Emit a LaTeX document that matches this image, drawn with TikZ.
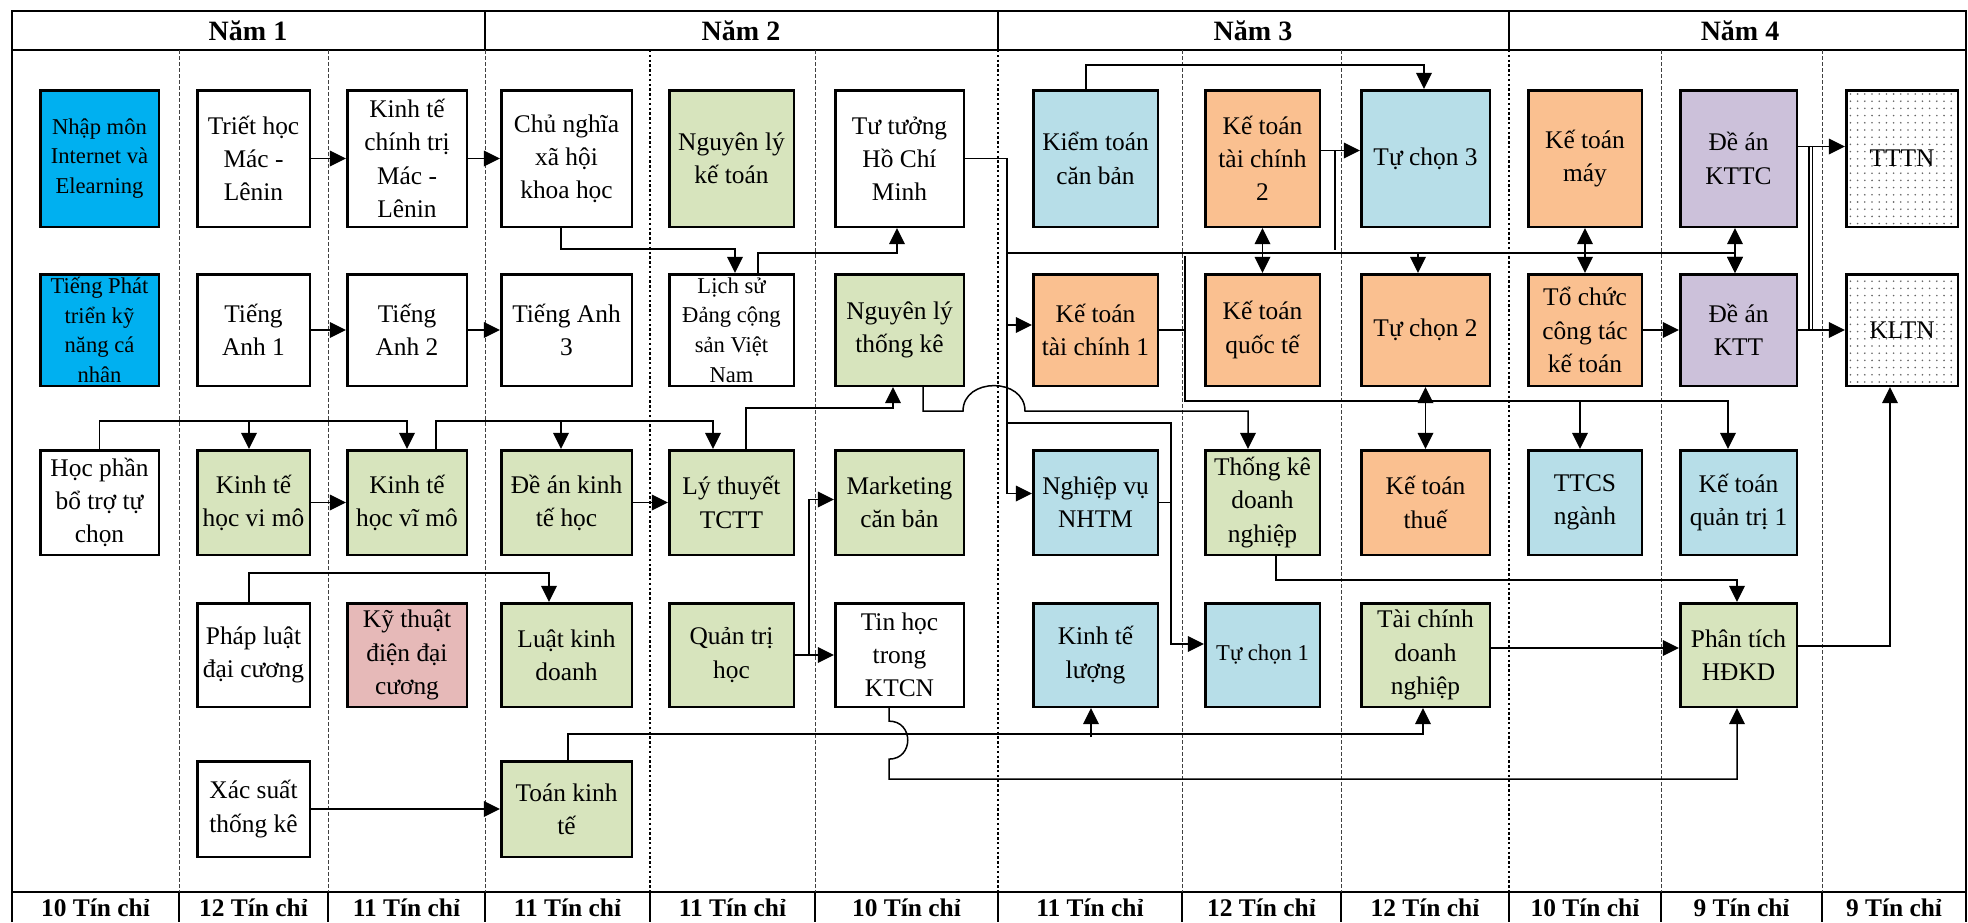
\documentclass[tikz,border=0pt]{standalone}
\usepackage{fontspec}
\setmainfont{Liberation Serif}
\usetikzlibrary{calc,arrows.meta,patterns.meta}
\definecolor{cyanbox}{HTML}{00B0F0}
\definecolor{greenbox}{HTML}{D7E4BD}
\definecolor{pinkbox}{HTML}{E6B9B8}
\definecolor{bluebox}{HTML}{B7DEE8}
\definecolor{orangebox}{HTML}{FAC090}
\definecolor{purplebox}{HTML}{CCC1DA}
\tikzset{
  course/.style={draw, line width=1.3pt, align=center, inner sep=0pt,
    font=\fontsize{12.7}{16.6}\selectfont},
  smalltext/.style={font=\fontsize{11.3}{14.8}\selectfont},
  dotbox/.style={course, pattern={Dots[distance=3.6pt, radius=0.45pt]}, pattern color=black!60},
  col1/.style={minimum width=59.3pt}, col2/.style={minimum width=56.3pt},
  col3/.style={minimum width=59.8pt}, col4/.style={minimum width=65.3pt},
  col5/.style={minimum width=62.3pt}, col6/.style={minimum width=64.3pt},
  col7/.style={minimum width=62.3pt}, col8/.style={minimum width=57.3pt},
  col9/.style={minimum width=64.3pt}, col10/.style={minimum width=56.8pt},
  col11/.style={minimum width=58.3pt}, col12/.style={minimum width=55.8pt},
  row1/.style={minimum height=68.3pt}, row2/.style={minimum height=55.8pt},
  row3/.style={minimum height=52.3pt}, row4/.style={minimum height=51.8pt},
  row5/.style={minimum height=47.8pt},
  link/.style={line width=0.75pt},
  arr/.style={link, -{Triangle[length=8pt,width=7.8pt]}},
  darr/.style={link, {Triangle[length=8pt,width=7.8pt]}-{Triangle[length=8pt,width=7.8pt]}},
  frame/.style={line width=1pt},
  semline/.style={line width=0.5pt, dash pattern=on 2pt off 1pt, black!75},
  yearline/.style={line width=1.1pt, dash pattern=on 1.2pt off 1.2pt},
  yearhead/.style={font=\fontsize{14}{16}\selectfont\bfseries},
  credit/.style={font=\fontsize{12.7}{15}\selectfont\bfseries}
}

\begin{document}
\begin{tikzpicture}[x=0.5pt, y=-0.5pt] % 1 unit = 1 pixel, y downwards

\useasboundingbox (0,0) rectangle (1968,922);
% frame, header and footer rows
\draw[frame] (12,922) -- (12,11) -- (1966,11) -- (1966,922);
\draw[frame] (12,50) -- (1966,50) (12,892) -- (1966,892);
\foreach \x in {485,998,1509} { \draw[frame] (\x,11) -- (\x,50); }
\foreach \x in {179,328,485,650,815,998,1182,1341,1509,1661,1822} { \draw[frame] (\x,892) -- (\x,922); }
\foreach \x in {179,328,485,815,1182,1341,1661,1822} { \draw[semline] (\x,50) -- (\x,892); }
\foreach \x in {650,998,1509} { \draw[yearline] (\x,50) -- (\x,892); }
\node[yearhead] (nam1) at (248,31) {Năm 1};
\node[yearhead] (nam2) at (741,31) {Năm 2};
\node[yearhead] (nam3) at (1253,31) {Năm 3};
\node[yearhead] (nam4) at (1740,31) {Năm 4};
\foreach \x/\n [count=\i] in {95.5/10,253.5/12,406.5/11,567.5/11,732.5/11,906.5/10,
    1090/11,1261.5/12,1425/12,1585/10,1741.5/9,1894/9}
  { \node[credit] (credit\i) at (\x,908) {\n~Tín chỉ}; }

% year 1
\node[course, col1, row1, fill=cyanbox, smalltext] (nhapmon) at (99.5,158.5) {Nhập môn\\Internet và\\Elearning};
\node[course, col1, row2, fill=cyanbox, smalltext] (kynang) at (99.5,330) {Tiếng Phát\\triển kỹ\\năng cá\\nhân};
\node[course, col1, row3] (hpbotro) at (99.5,502.5) {Học phần\\bổ trợ tự\\chọn};
\node[course, col2, row1] (triet) at (253.5,158.5) {Triết học\\Mác -\\Lênin};
\node[course, col2, row2] (ta1) at (253.5,330) {Tiếng\\Anh 1};
\node[course, col2, row3, fill=greenbox] (ktvi) at (253.5,502.5) {Kinh tế\\học vi mô};
\node[course, col2, row4] (phapluat) at (253.5,655) {Pháp luật\\đại cương};
\node[course, col2, row5] (xacsuat) at (253.5,809) {Xác suất\\thống kê};
\node[course, col3, row1] (ktct) at (407,158.5) {Kinh tế\\chính trị\\Mác -\\Lênin};
\node[course, col3, row2] (ta2) at (407,330) {Tiếng\\Anh 2};
\node[course, col3, row3, fill=greenbox] (ktvimo) at (407,502.5) {Kinh tế\\học vĩ mô};
\node[course, col3, row4, fill=pinkbox] (kythuat) at (407,655) {Kỹ thuật\\điện đại\\cương};
% year 2
\node[course, col4, row1] (cnxh) at (566.5,158.5) {Chủ nghĩa\\xã hội\\khoa học};
\node[course, col4, row2] (ta3) at (566.5,330) {Tiếng Anh\\3};
\node[course, col4, row3, fill=greenbox] (deankt) at (566.5,502.5) {Đề án kinh\\tế học};
\node[course, col4, row4, fill=greenbox] (luatkd) at (566.5,655) {Luật kinh\\doanh};
\node[course, col4, row5, fill=greenbox] (toankt) at (566.5,809) {Toán kinh\\tế};
\node[course, col5, row1, fill=greenbox] (nlkt) at (731.5,158.5) {Nguyên lý\\kế toán};
\node[course, col5, row2, smalltext] (lsd) at (731.5,330) {Lịch sử\\Đảng cộng\\sản Việt\\Nam};
\node[course, col5, row3, fill=greenbox] (lttctt) at (731.5,502.5) {Lý thuyết\\TCTT};
\node[course, col5, row4, fill=greenbox] (qtrihoc) at (731.5,655) {Quản trị\\học};
\node[course, col6, row1] (tthcm) at (899.5,158.5) {Tư tưởng\\Hồ Chí\\Minh};
\node[course, col6, row2, fill=greenbox] (nltk) at (899.5,330) {Nguyên lý\\thống kê};
\node[course, col6, row3, fill=greenbox] (mkt) at (899.5,502.5) {Marketing\\căn bản};
\node[course, col6, row4] (tinhoc) at (899.5,655) {Tin học\\trong\\KTCN};
% year 3
\node[course, col7, row1, fill=bluebox] (kiemtoan) at (1095.5,158.5) {Kiểm toán\\căn bản};
\node[course, col7, row2, fill=orangebox] (kttc1) at (1095.5,330) {Kế toán\\tài chính 1};
\node[course, col7, row3, fill=bluebox] (nvnhtm) at (1095.5,502.5) {Nghiệp vụ\\NHTM};
\node[course, col7, row4, fill=bluebox] (ktluong) at (1095.5,655) {Kinh tế\\lượng};
\node[course, col8, row1, fill=orangebox] (kttc2) at (1262.5,158.5) {Kế toán\\tài chính\\2};
\node[course, col8, row2, fill=orangebox] (ktqte) at (1262.5,330) {Kế toán\\quốc tế};
\node[course, col8, row3, fill=greenbox] (tkdn) at (1262.5,502.5) {Thống kê\\doanh\\nghiệp};
\node[course, col8, row4, fill=bluebox, smalltext] (tuchon1) at (1262.5,655) {Tự chọn 1};
\node[course, col9, row1, fill=bluebox] (tuchon3) at (1425.5,158.5) {Tự chọn 3};
\node[course, col9, row2, fill=orangebox] (tuchon2) at (1425.5,330) {Tự chọn 2};
\node[course, col9, row3, fill=orangebox] (ktthue) at (1425.5,502.5) {Kế toán\\thuế};
\node[course, col9, row4, fill=greenbox] (tcdn) at (1425.5,655) {Tài chính\\doanh\\nghiệp};
% year 4
\node[course, col10, row1, fill=orangebox] (ktmay) at (1585,158.5) {Kế toán\\máy};
\node[course, col10, row2, fill=orangebox] (tochuc) at (1585,330) {Tổ chức\\công tác\\kế toán};
\node[course, col10, row3, fill=bluebox] (ttcs) at (1585,502.5) {TTCS\\ngành};
\node[course, col11, row1, fill=purplebox] (dakttc) at (1738.5,158.5) {Đề án\\KTTC};
\node[course, col11, row2, fill=purplebox] (daktt) at (1738.5,330) {Đề án\\KTT};
\node[course, col11, row3, fill=bluebox] (ktqt1) at (1738.5,502.5) {Kế toán\\quản trị 1};
\node[course, col11, row4, fill=greenbox] (pthdkd) at (1738.5,655) {Phân tích\\HĐKD};
\node[dotbox, col12, row1] (tttn) at (1902,158.5) {TTTN};
\node[dotbox, col12, row2] (kltn) at (1902,330) {KLTN};

% year 1 and 2 links
\draw[arr] (triet.east) -- (ktct.west);
\draw[arr] (ktct.east) -- (cnxh.west);
\draw[arr] (ta1.east) -- (ta2.west);
\draw[arr] (ta2.east) -- (ta3.west);
\draw[arr] ($(cnxh.south)+(-5.5,0)$) -- ++(0,21) -| ($(lsd.north)+(3.5,0)$);
\draw[arr] ($(lsd.north)+(26.5,0)$) -- ++(0,-20) -| ($(tthcm.south)+(-2.5,0)$);
\draw[arr] (hpbotro.north) -- ++(0,-28) -| (ktvimo.north);
\draw[arr] ($(ktvi.north)+(-4.5,-28)$) -- ($(ktvi.north)+(-4.5,0)$);
\draw[arr] (ktvi.east) -- (ktvimo.west);
\draw[arr] ($(ktvimo.north)+(29,0)$) -- ++(0,-28) -| ($(lttctt.north)+(-18.5,0)$);
\draw[arr] ($(deankt.north)+(-5.5,-28)$) -- ($(deankt.north)+(-5.5,0)$);
\draw[arr] (deankt.east) -- (lttctt.west);
\draw[arr] ($(lttctt.north)+(14.5,0)$) -- ++(0,-41) -| ($(nltk.south)+(-6.5,0)$);
\draw[arr] ($(phapluat.north)+(-4.5,0)$) -- ++(0,-29) -| ($(luatkd.north)+(-17.5,0)$);
\draw[arr] (xacsuat.east) -- (toankt.west);
\draw[arr] (qtrihoc.east) -- (tinhoc.west);
\draw[arr] (qtrihoc.east) -- ++(14,0) |- ($(mkt.west)+(0,-3)$);
\draw[arr] ($(toankt.north)+(1.5,0)$) -- ++(0,-26) -| ($(tcdn.south)+(-2.5,0)$);
\draw[arr] ($(ktluong.south)+(-4.5,29)$) -- ($(ktluong.south)+(-4.5,0)$);
\draw[arr] ($(tinhoc.south)+(-10.5,0)$) -- ++(0,13) coordinate (hopB)
  .. controls ($(hopB)+(25,0)$) and ($(hopB)+(25,38)$) .. ($(hopB)+(0,38)$)
  -- ++(0,20) -| ($(pthdkd.south)+(-1.5,0)$);
\draw[arr] ($(nltk.south)+(23.5,0)$) -- ++(0,24) -- ++(40,0) coordinate (hopA)
  .. controls ($(hopA)+(0,-34)$) and ($(hopA)+(62,-34)$) .. ($(hopA)+(62,0)$)
  -| ($(tkdn.north)+(-14.5,0)$);

% year 3 links
\draw[arr] (tthcm.east) -- ++(42,0) |- ($(kttc1.west)+(0,-5)$);
\draw[arr] ($(tthcm.east)+(42,0)$) |- ($(nvnhtm.west)+(0,-9)$);
\draw[arr] ($(tthcm.east)+(42,94.5)$) -| ($(tuchon2.north)+(-7.5,0)$);
\draw[arr] ($(tthcm.east)+(42,94.5)$) -| ($(daktt.north)+(-3.5,0)$);
\draw[arr] ($(tthcm.east)+(42,264.5)$) -| ($(nvnhtm.east)+(12,0)$) |- ($(tuchon1.west)+(0,-11)$);
\draw[link] (nvnhtm.east) -- ++(12,0);
\draw[arr] ($(kiemtoan.north)+(-9.5,0)$) -- ++(0,-24) -| ($(tuchon3.north)+(-1.5,0)$);
\draw[arr] ($(kttc2.east)+(0,-8)$) -- ($(tuchon3.west)+(0,-8)$);
\draw[link] ($(kttc2.east)+(14,-8)$) -- ++(0,99);
\draw[darr] (kttc2.south) -- (ktqte.north);
\draw[link] (kttc1.east) -- ++(26,0);
\draw[arr] ($(kttc1.east)+(26,-74)$) |- ($(ktqt1.north)+(-10.5,-48)$) -- ($(ktqt1.north)+(-10.5,0)$);
\draw[arr] ($(ttcs.north)+(-5,-48)$) -- ($(ttcs.north)+(-5,0)$);
\draw[darr] (tuchon2.south) -- (ktthue.north);
\draw[arr] ($(tkdn.south)+(13.5,0)$) -- ++(0,24) -| ($(pthdkd.north)+(-1.5,0)$);
\draw[arr] ($(tcdn.east)+(0,-7)$) -- ($(pthdkd.west)+(0,-7)$);

% year 4 links
\draw[darr] (ktmay.south) -- (tochuc.north);
\draw[darr] ($(dakttc.south)+(-3.5,0)$) -- ($(daktt.north)+(-3.5,0)$);
\draw[arr] (tochuc.east) -- (daktt.west);
\draw[arr] ($(dakttc.east)+(0,-12)$) -- ($(tttn.west)+(0,-12)$);
\draw[arr] (daktt.east) -- (kltn.west);
\draw[link] ($(dakttc.east)+(11,-12)$) -- ($(daktt.east)+(11,0)$);
\draw[link] ($(dakttc.east)+(14.5,-12)$) -- ($(daktt.east)+(14.5,0)$);
\draw[arr] ($(pthdkd.east)+(0,-9)$) -| ($(kltn.south)+(-12,0)$);
\end{tikzpicture}
\end{document}
